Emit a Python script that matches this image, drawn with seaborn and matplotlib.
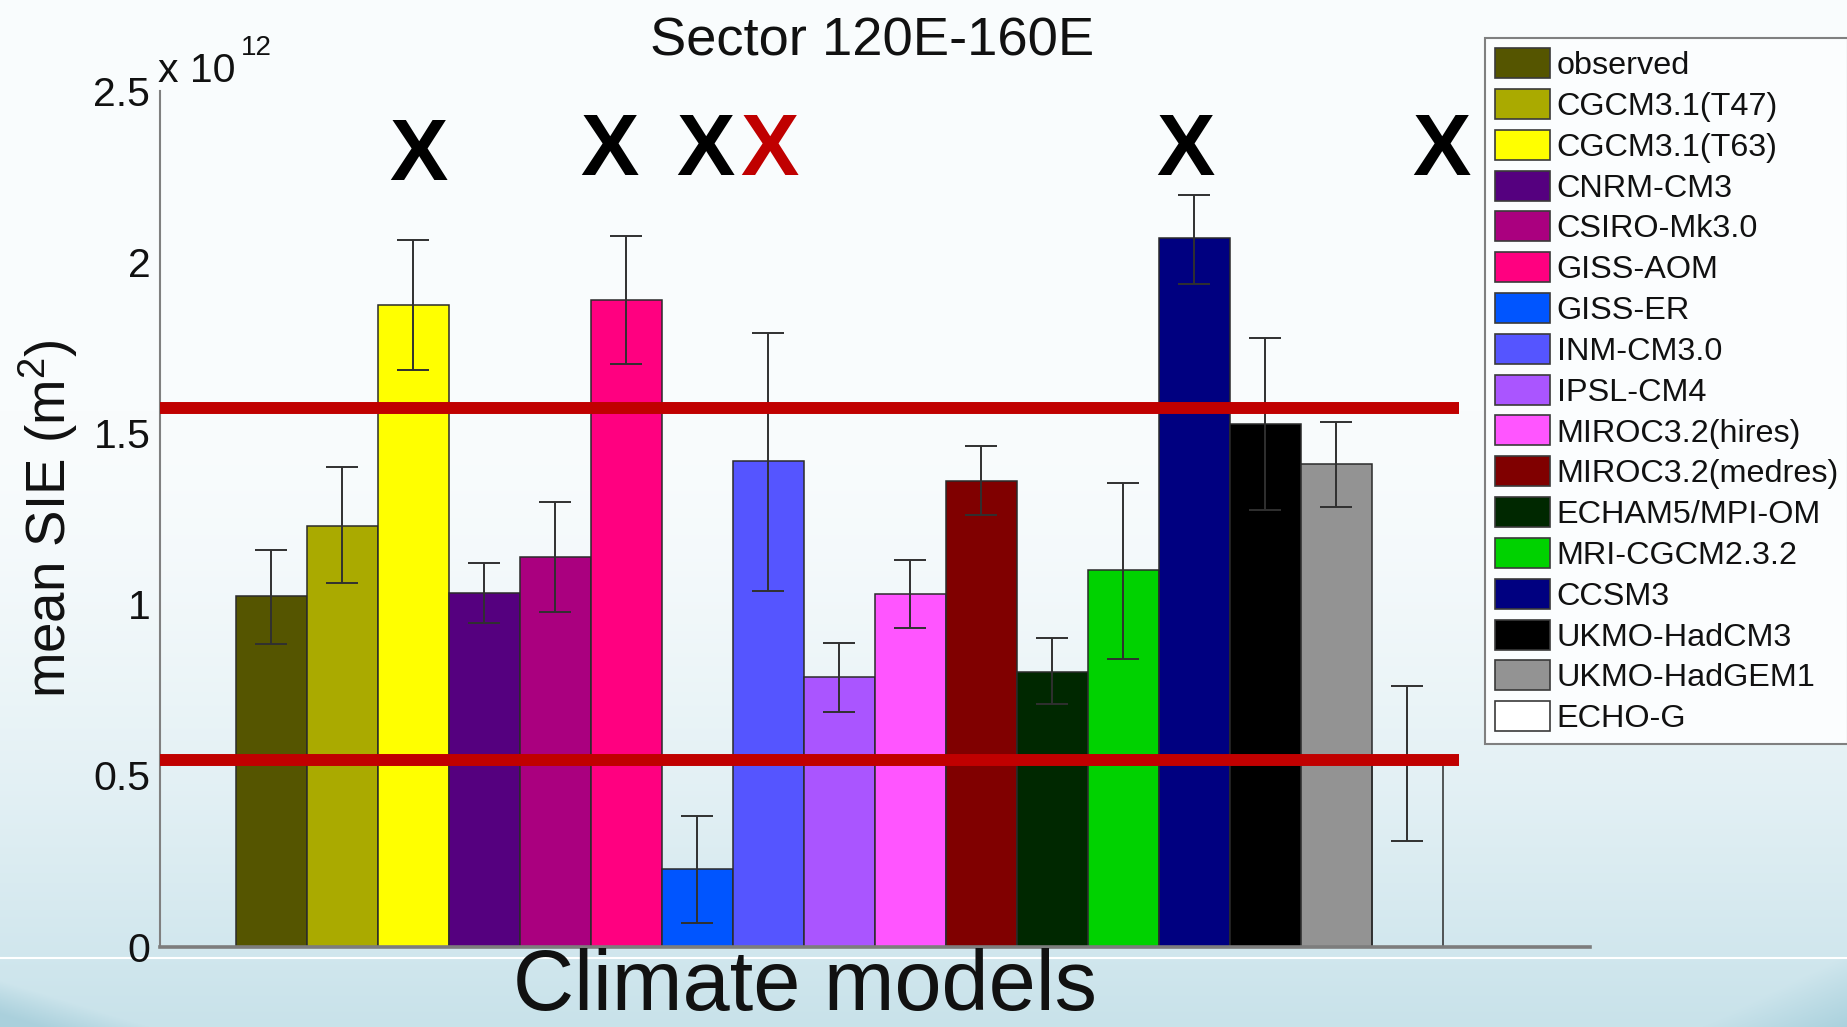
import numpy as np
import pandas as pd
import matplotlib
matplotlib.use("Agg")
import matplotlib.pyplot as plt
from matplotlib.patches import Patch
from matplotlib.lines import Line2D
import seaborn as sns

# Mean sea-ice extent per model, sector 120E-160E (units of 1e12 m^2)
models = [
    "observed", "CGCM3.1(T47)", "CGCM3.1(T63)", "CNRM-CM3", "CSIRO-Mk3.0",
    "GISS-AOM", "GISS-ER", "INM-CM3.0", "IPSL-CM4", "MIROC3.2(hires)",
    "MIROC3.2(medres)", "ECHAM5/MPI-OM", "MRI-CGCM2.3.2", "CCSM3",
    "UKMO-HadCM3", "UKMO-HadGEM1", "ECHO-G",
]
sie_mean = [1.024, 1.229, 1.874, 1.034, 1.138, 1.890, 0.226, 1.418, 0.786,
            1.030, 1.360, 0.801, 1.100, 2.070, 1.526, 1.409, 0.535]
sie_low = [0.883, 1.061, 1.685, 0.946, 0.978, 1.702, 0.068, 1.038, 0.685,
           0.931, 1.261, 0.708, 0.839, 1.937, 1.275, 1.284, 0.307]
sie_high = [1.159, 1.402, 2.065, 1.121, 1.298, 2.077, 0.382, 1.793, 0.886,
            1.129, 1.462, 0.902, 1.354, 2.196, 1.777, 1.533, 0.762]
bar_colors = [
    "#555500", "#aaaa00", "#ffff00", "#55007f", "#aa007f",
    "#ff0080", "#0055ff", "#5555ff", "#aa55ff", "#ff55ff",
    "#800000", "#002800", "#00d200", "#000080",
    "#000000", "#939393", "#ffffff",
]
# acceptance band around the observed extent
band_upper = 1.573
band_lower = 0.546
# models rejected (black) and the borderline one (red)
rejected_black = ["CGCM3.1(T63)", "GISS-AOM", "GISS-ER", "CCSM3", "ECHO-G"]
rejected_red = ["INM-CM3.0"]

W, H = 1847, 1027
sns.set_theme(style="white")
plt.rcParams["font.family"] = ["Liberation Sans", "DejaVu Sans"]
plt.rcParams["mathtext.fontset"] = "custom"
plt.rcParams["mathtext.rm"] = "Liberation Sans"
plt.rcParams["mathtext.it"] = "Liberation Sans:italic"
plt.rcParams["text.color"] = "#111111"

fig = plt.figure(figsize=(W / 100, H / 100), dpi=100)

# slide background: pale gradient, darker blue in the lower corners
v = np.linspace(0, 1, H)[:, None]
u = np.linspace(0, 1, W)[None, :]
t = np.clip((v - 0.4) / 0.6, 0, 1) ** 1.6
top_c = np.array([249, 252, 253]) / 255
bot_c = np.array([200, 226, 234]) / 255
img = top_c * (1 - t[..., None]) + bot_c * t[..., None]
img = img * np.ones((H, W, 1))
f_bl = np.clip((v - 0.955 - 0.56 * u) * 30, 0, 1)[..., None]
img = img * (1 - f_bl) + (np.array([170, 208, 220]) / 255) * f_bl
f_br = np.clip((v - 0.93 - 0.9 * (1 - u)) * 10, 0, 1)[..., None]
img = img * (1 - 0.7 * f_br) + (np.array([140, 192, 208]) / 255) * 0.7 * f_br
bg = fig.add_axes([0, 0, 1, 1], zorder=-10)
bg.imshow(img, aspect="auto", extent=[0, 1, 0, 1], origin="upper")
bg.set_axis_off()
fig.add_artist(Line2D([0, 1], [1 - 958 / H, 1 - 958 / H], color="white",
                      lw=1.5, transform=fig.transFigure, zorder=-5))

ax_left, ax_right, ax_top, ax_bottom = 160, 1590, 90.9, 946.5
ax = fig.add_axes([ax_left / W, 1 - ax_bottom / H,
                   (ax_right - ax_left) / W, (ax_bottom - ax_top) / H])
ax.patch.set_visible(False)

df = pd.DataFrame({"model": models, "sie": sie_mean})
palette = dict(zip(models, bar_colors))
sns.barplot(data=df, x="model", y="sie", hue="model", order=models,
            hue_order=models, palette=palette, width=1.0, dodge=False,
            errorbar=None, legend=False, saturation=1,
            edgecolor="#2b2b2b", linewidth=1.1, ax=ax, zorder=2)
for patch, name in zip(ax.patches, models):
    if name == "ECHO-G":
        patch.set_facecolor("none")

xpos = np.arange(len(models))
mean = np.array(sie_mean)
ax.errorbar(xpos, mean, yerr=[mean - np.array(sie_low), np.array(sie_high) - mean],
            fmt="none", ecolor="#303030", elinewidth=1.4, capsize=11.5,
            capthick=1.4, zorder=3)

ax.set_xlim(-1.566, 18.57)
ax.set_ylim(0, 2.5)
ax.hlines([band_upper, band_lower], -1.566, 16.72, colors="#c00000",
          linewidth=8.6, zorder=4)

# "X" flags above rejected models
flag_style = {"CGCM3.1(T63)": (0.07, 2.240), "GISS-AOM": (-0.24, 2.254),
              "GISS-ER": (0.12, 2.254), "INM-CM3.0": (0.02, 2.254),
              "CCSM3": (-0.12, 2.254), "ECHO-G": (0.48, 2.254)}
for name in rejected_black + rejected_red:
    dx, yb = flag_style[name]
    color = "#c00000" if name in rejected_red else "black"
    ax.text(models.index(name) + dx, yb, "X", fontsize=63, fontweight="bold",
            color=color, ha="center", va="baseline", clip_on=False, zorder=5)

ax.set_yticks([0, 0.5, 1, 1.5, 2, 2.5])
ax.set_yticklabels(["0", "0.5", "1", "1.5", "2", "2.5"])
ax.tick_params(axis="y", length=0, pad=7, labelsize=29.5, labelcolor="#111111")
ax.set_xticks([])
ax.set_xlabel("")
ax.set_ylabel("")
ax.spines["top"].set_visible(False)
ax.spines["right"].set_visible(False)
ax.spines["left"].set_color("#808080")
ax.spines["left"].set_linewidth(1.5)
ax.spines["bottom"].set_color("#7d7d7d")
ax.spines["bottom"].set_linewidth(2.6)

handles = [Patch(facecolor=c, edgecolor="#3a3a3a", linewidth=1.2) for c in bar_colors]
leg = ax.legend(handles, models, loc="upper left",
                bbox_to_anchor=(1485 / W, 1 - 38.4 / H),
                bbox_transform=fig.transFigure, borderaxespad=0, fontsize=23.3,
                handlelength=1.72, handleheight=1.05, handletextpad=0.19,
                labelspacing=0.24, borderpad=0.3, frameon=True, fancybox=False,
                edgecolor="#808080", facecolor="#fbfdfe", framealpha=1)
leg.get_frame().set_linewidth(1.5)

fig.text(872 / W, 1 - 55 / H, "Sector 120E-160E", fontsize=39.2,
         ha="center", va="baseline")
fig.text(158.5 / W, 1 - 81.7 / H, "x 10", fontsize=29.5, va="baseline")
fig.text(241 / W, 1 - 55 / H, "12", fontsize=20, va="baseline")
fig.text(48 / W, 1 - 519 / H, r"mean SIE (m$^{2}$)", fontsize=39.3,
         rotation=90, ha="center", va="center")
fig.text(805 / W, 1 - 1010 / H, "Climate models", fontsize=61,
         ha="center", va="baseline")

fig.savefig("out.png", dpi=100)
